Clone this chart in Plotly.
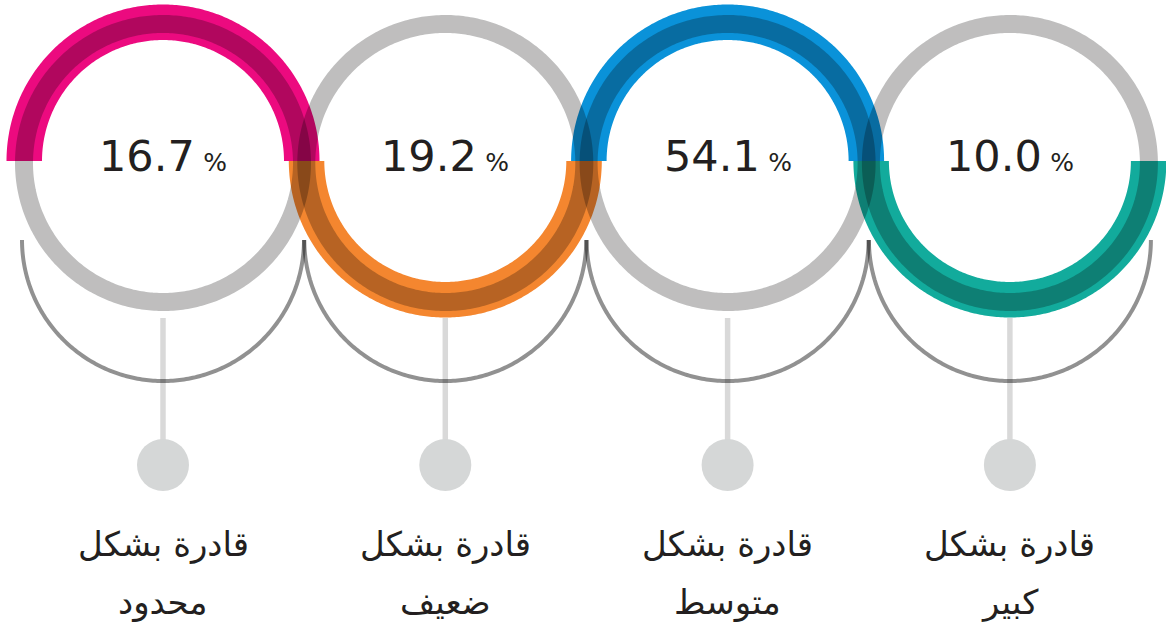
import numpy as np
import plotly.graph_objects as go

# ---- data ----
label_line1 = ["قادرة بشكل", "قادرة بشكل", "قادرة بشكل", "قادرة بشكل"]
label_line2 = ["محدود", "ضعيف", "متوسط", "كبير"]
values = [16.7, 19.2, 54.1, 10.0]
arc_colors = ["#EC0A7F", "#F4862F", "#0A92D9", "#12AB9C"]
arc_half = ["top", "bottom", "top", "bottom"]

# ---- layout constants (pixels) ----
W, H = 1166, 624
cx0, dx = 163.0, 282.3
cy_col, r_in, r_out = 161.0, 121.0, 156.5
cy_gray, r_gray, w_gray = 163.0, 139.0, 18
cy_low, r_low = 240.0, 141.0
stem_top, dot_y, dot_d = 318.0, 465.0, 52

fig = go.Figure()
centers = [cx0 + i * dx for i in range(len(values))]

# coloured half rings (opaque)
for cx, col, half in zip(centers, arc_colors, arc_half):
    t = np.linspace(0, np.pi, 240)
    s = -1 if half == "top" else 1
    xo = cx + r_out * np.cos(t)
    yo = cy_col + s * r_out * np.sin(t)
    xi = cx + r_in * np.cos(t[::-1])
    yi = cy_col + s * r_in * np.sin(t[::-1])
    fig.add_trace(go.Scatter(x=np.r_[xo, xi, xo[:1]], y=np.r_[yo, yi, yo[:1]],
                             mode="lines", fill="toself", fillcolor=col,
                             line=dict(width=0, color=col, simplify=False), hoverinfo="skip"))

# grey rings, drawn as a multiply-like translucent overlay
for cx in centers:
    t = np.linspace(0, 2 * np.pi + 0.3, 400)
    fig.add_trace(go.Scatter(x=cx + r_gray * np.cos(t), y=cy_gray + r_gray * np.sin(t),
                             mode="lines",
                             line=dict(width=w_gray, color="rgba(2,1,0,0.253)", simplify=False),
                             hoverinfo="skip"))

# lower thin arcs
for cx in centers:
    t = np.linspace(0, np.pi, 200)
    fig.add_trace(go.Scatter(x=cx + r_low * np.cos(t), y=cy_low + r_low * np.sin(t),
                             mode="lines",
                             line=dict(width=4, color="rgba(0,0,0,0.43)", simplify=False),
                             hoverinfo="skip"))

# stems and dots
for cx in centers:
    fig.add_trace(go.Scatter(x=[cx, cx], y=[stem_top, dot_y], mode="lines",
                             line=dict(width=5.5, color="rgba(0,0,0,0.15)"), hoverinfo="skip"))
fig.add_trace(go.Scatter(x=centers, y=[dot_y] * len(centers), mode="markers",
                         marker=dict(size=dot_d, color="#D5D7D7", line=dict(width=0)),
                         hoverinfo="skip"))

# text
for cx, v, l1, l2 in zip(centers, values, label_line1, label_line2):
    fig.add_annotation(x=cx, y=156, xref="x", yref="y", showarrow=False,
                       text=f"{v:.1f}\u2009<span style='font-size:25px'>%</span>",
                       font=dict(family="DejaVu Sans", size=43, color="#231F20"),
                       xanchor="center", yanchor="middle")
    fig.add_annotation(x=cx, y=544, xref="x", yref="y", showarrow=False, text=l1,
                       font=dict(family="DejaVu Sans", size=34, color="#231F20"),
                       xanchor="center", yanchor="middle")
    fig.add_annotation(x=cx, y=602, xref="x", yref="y", showarrow=False, text=l2,
                       font=dict(family="DejaVu Sans", size=34, color="#231F20"),
                       xanchor="center", yanchor="middle")

fig.update_layout(width=W, height=H, margin=dict(l=0, r=0, t=0, b=0),
                  paper_bgcolor="white", plot_bgcolor="white", showlegend=False,
                  xaxis=dict(range=[0, W], visible=False, fixedrange=True),
                  yaxis=dict(range=[H, 0], visible=False, fixedrange=True))
fig.write_html("out.html", config={"displayModeBar": False},
               post_script="document.body.style.margin='0';document.body.style.overflow='hidden';")
